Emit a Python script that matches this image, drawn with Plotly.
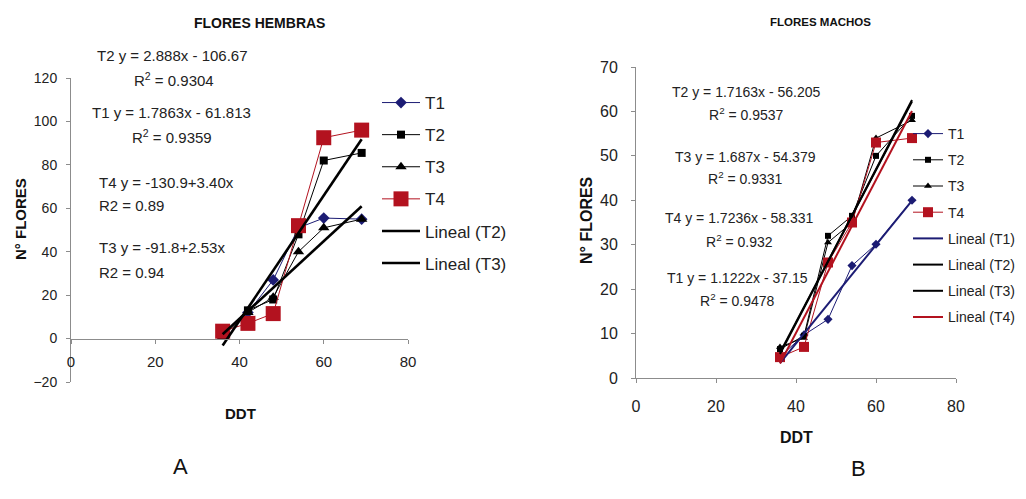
import numpy as np
import plotly.graph_objects as go

# ---------------- data ----------------
DDT = [36, 42, 48, 54, 60, 69]

hem_T1 = [2.5, 12, 27, 51, 55.5, 55]
hem_T2 = [2, 13, 18, 48, 82, 85.5]
hem_T3 = [1, 12, 19, 40, 51, 55]
hem_T4 = [3.4, 7, 11.5, 52, 92.5, 96]

mac_T1 = [4.8, 9.7, 13.2, 25.3, 30.1, 40]
mac_T2 = [6.5, 9.5, 32, 36.5, 50, 59]
mac_T3 = [7, 9, 30.5, 35, 54, 58]
mac_T4 = [4.7, 7, 26, 35, 53, 54]

series_names = ["T1", "T2", "T3", "T4"]

hem_eq_text = ["T2 y = 2.888x - 106.67", "R<sup>2</sup> = 0.9304",
               "T1 y = 1.7863x - 61.813", "R<sup>2</sup> = 0.9359",
               "T4 y = -130.9+3.40x", "R2 = 0.89",
               "T3 y = -91.8+2.53x", "R2 = 0.94"]
mac_eq_text = ["T2 y = 1.7163x - 56.205", "R<sup>2</sup> = 0.9537",
               "T3 y = 1.687x - 54.379", "R<sup>2</sup> = 0.9331",
               "T4 y = 1.7236x - 58.331", "R<sup>2</sup> = 0.932",
               "T1 y = 1.1222x - 37.15", "R<sup>2</sup> = 0.9478"]

# ---------------- styles ----------------
OFF = 8                      # page body margin
W, H = 1026 - 2 * OFF, 499 - 2 * OFF
FONT = "Arial, Liberation Sans, sans-serif"
NAVY = "#1c1c74"
RED = "#b3121f"
AX = "#8c8c8c"

def px(x):
    return (x - OFF) / W

def py(y):
    return 1 - (y - OFF) / H

fig = go.Figure()

hem = [hem_T1, hem_T2, hem_T3, hem_T4]
mac = [mac_T1, mac_T2, mac_T3, mac_T4]

hem_style = [
    dict(color=NAVY, symbol="diamond", size=9, lc=NAVY),
    dict(color="black", symbol="square", size=8, lc="black"),
    dict(color="black", symbol="triangle-up", size=10, lc="black"),
    dict(color=RED, symbol="square", size=15, lc=RED),
]
mac_style = [
    dict(color=NAVY, symbol="diamond", size=7, lc=NAVY),
    dict(color="black", symbol="square", size=6, lc="black"),
    dict(color="black", symbol="triangle-up", size=7, lc="black"),
    dict(color=RED, symbol="square", size=10, lc=RED),
]

for name, ys, st in zip(series_names, hem, hem_style):
    fig.add_trace(go.Scatter(
        x=DDT, y=ys, name=name, mode="lines+markers",
        line=dict(color=st["lc"], width=1),
        marker=dict(color=st["color"], symbol=st["symbol"], size=st["size"],
                    line=dict(width=0)),
        xaxis="x", yaxis="y", legend="legend", legendgroup="h" + name))

xfit = np.array([min(DDT), max(DDT)])
for name, ys in [("T2", hem_T2), ("T3", hem_T3)]:
    k, b = np.polyfit(DDT, ys, 1)
    fig.add_trace(go.Scatter(
        x=xfit, y=k * xfit + b, name=f"Lineal ({name})", mode="lines",
        line=dict(color="black", width=2.6),
        xaxis="x", yaxis="y", legend="legend", legendgroup="hl" + name))

for name, ys, st in zip(series_names, mac, mac_style):
    fig.add_trace(go.Scatter(
        x=DDT, y=ys, name=name, mode="lines+markers",
        line=dict(color=st["lc"], width=1),
        marker=dict(color=st["color"], symbol=st["symbol"], size=st["size"],
                    line=dict(width=0)),
        xaxis="x2", yaxis="y2", legend="legend2", legendgroup="m" + name))

trend_cols = [NAVY, "black", "black", RED]
for name, ys, c in zip(series_names, mac, trend_cols):
    k, b = np.polyfit(DDT, ys, 1)
    fig.add_trace(go.Scatter(
        x=xfit, y=k * xfit + b, name=f"Lineal ({name})", mode="lines",
        line=dict(color=c, width=2),
        xaxis="x2", yaxis="y2", legend="legend2", legendgroup="ml" + name))

def axis_style(size):
    return dict(showgrid=False, zeroline=False, showline=True, linecolor=AX,
                linewidth=1, ticks="outside", tickcolor=AX, ticklen=4,
                automargin=False,
                tickfont=dict(family=FONT, size=size, color="#222"))

annots = []
hem_pos = [(172, 55, "center"), (174, 79, "center"), (171, 112, "center"),
           (172, 136, "center"), (97, 182, "left"), (97, 205, "left"),
           (97, 247, "left"), (97, 272, "left")]
for t, (x, y, al) in zip(hem_eq_text, hem_pos):
    annots.append(dict(text=t, x=px(x), y=py(y), xref="paper", yref="paper",
                       xanchor=al, yanchor="middle", showarrow=False,
                       font=dict(family=FONT, size=15, color="#222")))
mac_pos = [(746, 92), (746, 114), (745, 157), (745, 178),
           (739, 218), (739, 241), (737, 278), (737, 300)]
for t, (x, y) in zip(mac_eq_text, mac_pos):
    annots.append(dict(text=t, x=px(x), y=py(y), xref="paper", yref="paper",
                       xanchor="center", yanchor="middle", showarrow=False,
                       font=dict(family=FONT, size=14, color="#222")))

other = [
    ("<b>FLORES HEMBRAS</b>", 259, 23, 14, 0),
    ("<b>FLORES MACHOS</b>", 820, 22, 11.5, 0),
    ("<b>N° FLORES</b>", 20, 219, 15, -90),
    ("<b>N° FLORES</b>", 586, 220, 16, -90),
    ("<b>DDT</b>", 240, 413, 15, 0),
    ("<b>DDT</b>", 796, 437, 16, 0),
    ("A", 180, 466, 22, 0),
    ("B", 858, 468, 22, 0),
]
for t, x, y, s, ang in other:
    annots.append(dict(text=t, x=px(x), y=py(y), xref="paper", yref="paper",
                       xanchor="center", yanchor="middle", showarrow=False,
                       textangle=ang,
                       font=dict(family=FONT, size=s, color="#111")))

fig.update_layout(
    width=W, height=H, autosize=False,
    margin=dict(l=0, r=0, t=0, b=0, pad=0, autoexpand=False),
    paper_bgcolor="white", plot_bgcolor="white",
    font=dict(family=FONT, color="#222"),
    xaxis=dict(domain=[px(71), px(408)], range=[0, 80], dtick=20,
               anchor="free", position=py(339), ticklabelstandoff=5,
               **axis_style(15)),
    yaxis=dict(domain=[py(382), py(78)], range=[-20, 120], dtick=20,
               anchor="x", ticklabelstandoff=6, **axis_style(14)),
    xaxis2=dict(domain=[px(636), px(956)], range=[0, 80], dtick=20,
                anchor="y2", ticklabelstandoff=10, **axis_style(16)),
    yaxis2=dict(domain=[py(378), py(67)], range=[0, 70], dtick=10,
                anchor="x2", ticklabelstandoff=10, **axis_style(16)),
    legend=dict(x=px(377), y=py(85), xanchor="left", yanchor="top",
                tracegroupgap=7, itemwidth=38, bgcolor="rgba(0,0,0,0)",
                font=dict(family=FONT, size=17, color="#222")),
    legend2=dict(x=px(908), y=py(118), xanchor="left", yanchor="top",
                 tracegroupgap=5, itemwidth=30, bgcolor="rgba(0,0,0,0)",
                 font=dict(family=FONT, size=14, color="#222")),
    annotations=annots,
)

fig.write_html("out.html")
